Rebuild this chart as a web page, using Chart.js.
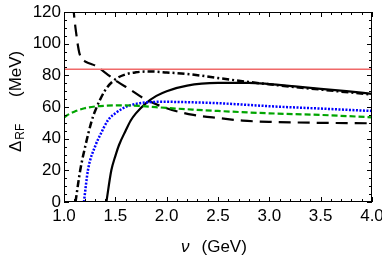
<!DOCTYPE html>
<html lang="en">
<head>
<meta charset="UTF-8">
<title>Delta RF vs nu</title>
<script src="https://cdn.jsdelivr.net/npm/chart.js@4"></script>
<style>
  html, body { margin: 0; padding: 0; background: #fff; }
  #wrap { width: 382px; height: 258px; }
</style>
</head>
<body>
<div id="wrap"><canvas id="c" width="382" height="258"></canvas></div>
<script>
// x ticks and y ticks
const xTicks = [1.0, 1.5, 2.0, 2.5, 3.0, 3.5, 4.0];
const yTicks = [0, 20, 40, 60, 80, 100, 120];

// solid black
const solidNu  = [1.413, 1.461, 1.5, 1.536, 1.6, 1.65, 1.7, 1.8, 1.9, 2.0, 2.2, 2.5, 2.8, 3.0, 3.25, 3.5, 3.75, 4.0];
const solidVal = [0, 20, 29, 36, 45, 51.5, 56, 62.5, 67, 70, 73.5, 75.2, 75.3, 74.5, 73, 71.5, 70, 68.3];

// dash-dot black
const dashDotNu  = [1.112, 1.158, 1.21, 1.272, 1.3, 1.4, 1.5, 1.6, 1.7, 1.8, 1.9, 2.0, 2.2, 2.5, 2.8, 3.0, 3.5, 4.0];
const dashDotVal = [0, 20, 36, 51.8, 57, 70.5, 77.5, 80.6, 81.9, 82.4, 82.3, 81.8, 80.9, 78.3, 75.8, 74.3, 71, 67.8];

// long dashed black
const longDashNu  = [1.09, 1.095, 1.108, 1.12, 1.135, 1.15, 1.17, 1.2, 1.25, 1.3, 1.41, 1.52, 1.64, 1.77, 2.0, 2.26, 2.52, 2.74, 3.0, 3.5, 4.0];
const longDashVal = [124, 120, 112, 106, 99, 94, 91, 89, 87.5, 86.3, 81.3, 76, 71.2, 65.7, 59.2, 55, 52.9, 51.4, 50.6, 50, 49.7];

// blue dotted
const blueNu  = [1.194, 1.233, 1.308, 1.35, 1.43, 1.5, 1.575, 1.65, 1.74, 1.85, 1.95, 2.1, 2.5, 2.8, 3.0, 3.5, 4.0];
const blueVal = [0, 20, 36, 42, 51.8, 56, 59.2, 61.2, 62.4, 63.1, 63.3, 63.2, 62.4, 61.3, 60.5, 59, 57.5];

// green dashed
const greenNu  = [1.0, 1.05, 1.1, 1.15, 1.2, 1.3, 1.4, 1.5, 1.6, 1.75, 2.0, 2.25, 2.5, 3.0, 3.5, 4.0];
const greenVal = [53.5, 55.5, 57, 58.2, 59.2, 60.3, 60.8, 61, 61, 60.6, 59.4, 58.4, 57.5, 56, 55, 53.5];

// red horizontal line
const redNu  = [1.0, 4.0];
const redVal = [83.8, 83.8];

function pts(xs, ys) { return xs.map((x, i) => ({ x: x, y: ys[i] })); }

const FONT = "'Liberation Sans', Arial, sans-serif";

function line(xs, ys, color, width, dash) {
  return {
    data: pts(xs, ys),
    borderColor: color,
    borderWidth: width,
    borderDash: dash,
    pointRadius: 0,
    fill: false,
    cubicInterpolationMode: 'monotone',
    borderCapStyle: 'butt'
  };
}

// inward ticks, frame and axis titles
const framePlugin = {
  id: 'frame',
  afterDatasetsDraw(chart) {
    const { ctx, chartArea: a, scales } = chart;
    const xs = scales.x, ys = scales.y;
    ctx.save();
    ctx.strokeStyle = '#000';
    ctx.lineWidth = 1;
    ctx.strokeRect(a.left + 0.5, a.top + 0.5, a.right - a.left - 1, a.bottom - a.top - 1);
    ctx.beginPath();
    for (let i = 0; i <= 30; i++) {
      const v = 1 + i * 0.1;
      const px = Math.round(xs.getPixelForValue(v)) + 0.5;
      const len = (i % 5 === 0) ? 5 : 3;
      ctx.moveTo(px, a.bottom); ctx.lineTo(px, a.bottom - len);
      ctx.moveTo(px, a.top); ctx.lineTo(px, a.top + len);
    }
    for (let i = 0; i <= 24; i++) {
      const v = i * 5;
      const py = Math.round(ys.getPixelForValue(v)) + 0.5;
      const len = (i % 4 === 0) ? 5 : 3;
      ctx.moveTo(a.left, py); ctx.lineTo(a.left + len, py);
      ctx.moveTo(a.right, py); ctx.lineTo(a.right - len, py);
    }
    ctx.stroke();

    ctx.fillStyle = '#000';
    // x title
    ctx.textBaseline = 'alphabetic';
    ctx.font = 'italic 17px ' + FONT;
    const nu = '\u03bd';
    const wNu = ctx.measureText(nu).width;
    let x0 = 181;
    ctx.fillText(nu, x0, 252);
    ctx.font = '17px ' + FONT;
    ctx.fillText('(GeV)', x0 + wNu + 12, 252);

    // y title (rotated)
    ctx.translate(21, 152);
    ctx.rotate(-Math.PI / 2);
    ctx.font = '17px ' + FONT;
    ctx.fillText('\u0394', 0, 0);
    const wD = ctx.measureText('\u0394').width;
    ctx.font = '12px ' + FONT;
    ctx.fillText('RF', wD + 1, 3);
    ctx.font = '17px ' + FONT;
    ctx.fillText('(MeV)', 55, 0);
    ctx.restore();
  }
};

new Chart(document.getElementById('c'), {
  type: 'line',
  data: {
    datasets: [
      line(redNu, redVal, 'rgb(240,105,105)', 1.4, []),
      line(greenNu, greenVal, 'rgb(0,165,0)', 2.2, [6, 3]),
      line(blueNu, blueVal, 'rgb(0,0,255)', 2.5, [2, 1.5]),
      line(longDashNu, longDashVal, '#000', 2.2, [12, 7]),
      line(dashDotNu, dashDotVal, '#000', 2.5, [7, 3, 2, 3]),
      line(solidNu, solidVal, '#000', 2.2, [])
    ]
  },
  options: {
    responsive: false,
    animation: false,
    events: [],
    layout: { padding: { top: 12, right: 10, left: 0, bottom: 0 } },
    plugins: { legend: { display: false }, tooltip: { enabled: false } },
    scales: {
      x: {
        type: 'linear',
        min: 1, max: 4,
        grid: { display: false, drawTicks: false },
        border: { display: false },
        afterBuildTicks: s => { s.ticks = xTicks.map(v => ({ value: v })); },
        ticks: {
          font: { family: FONT, size: 17 },
          color: '#000',
          padding: 4,
          maxRotation: 0,
          callback: v => Number(v).toFixed(1)
        },
        afterFit: s => { s.height = 56; s.paddingLeft = 0; s.paddingRight = 0; }
      },
      y: {
        min: 0, max: 120,
        grid: { display: false, drawTicks: false },
        border: { display: false },
        afterBuildTicks: s => { s.ticks = yTicks.map(v => ({ value: v })); },
        ticks: {
          font: { family: FONT, size: 17 },
          color: '#000',
          padding: 3
        },
        afterFit: s => { s.width = 64; s.paddingTop = 0; s.paddingBottom = 0; }
      }
    }
  },
  plugins: [framePlugin]
});
</script>
</body>
</html>
